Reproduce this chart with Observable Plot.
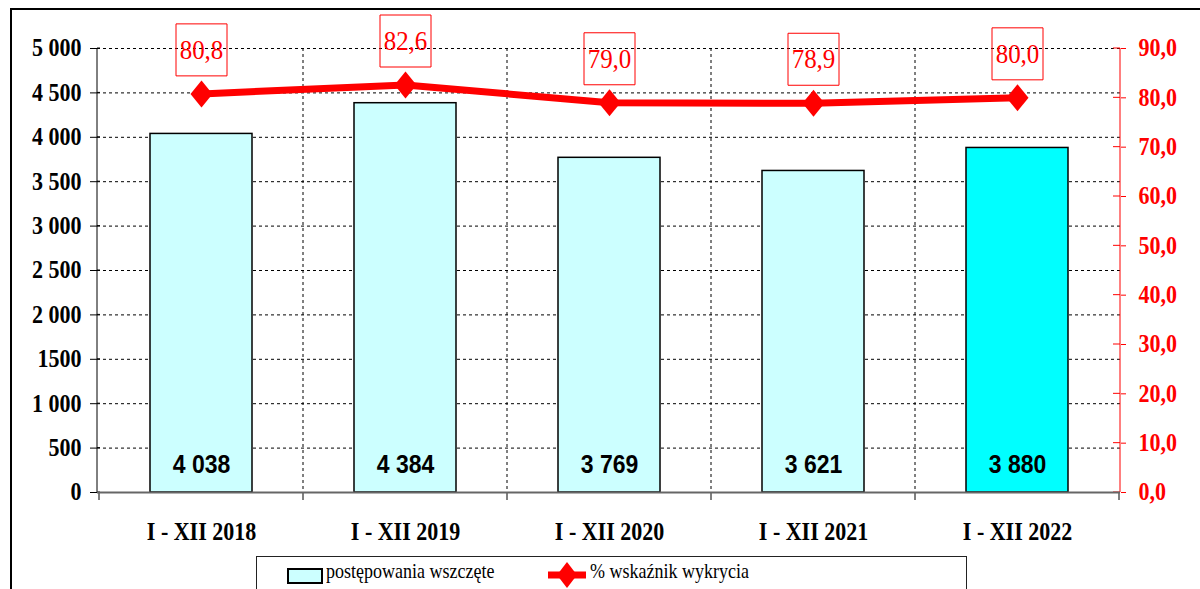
<!DOCTYPE html>
<html>
<head>
<meta charset="utf-8">
<script src="https://cdn.jsdelivr.net/npm/d3@7"></script>
<script src="https://cdn.jsdelivr.net/npm/@observablehq/plot@0.6"></script>
<style>
  html, body { margin: 0; padding: 0; background: #fff; }
  #wrap { position: relative; width: 1200px; height: 589px; overflow: hidden; background: #fff; }
  #chart { position: absolute; left: 0; top: 0; }
  #frame { position: absolute; left: 10px; top: 8px; width: 1300px; height: 700px; border: 2px solid #000; pointer-events: none; box-sizing: border-box; }
  #legend { position: absolute; left: 256px; top: 556px; width: 709px; height: 60px; border: 1px solid #222; background: #fff; font-family: "Liberation Serif", "Times New Roman", serif; font-size: 18px; color: #000; }
  #legend .sw { position: absolute; left: 30px; top: 11px; width: 32px; height: 12px; background: #CCFFFF; border: 2px solid #000; }
  #legend .t1, #legend .t2 { position: absolute; top: 6px; white-space: nowrap; display: inline-block; transform: scaleY(1.15); transform-origin: 50% 100%; }
  #legend .t1 { left: 69px; }
  #legend svg { position: absolute; left: 289px; top: 4px; }
  #legend .t2 { left: 333px; }
</style>
</head>
<body>
<div id="wrap">
  <div id="chart"></div>
  <div id="legend">
    <div class="sw"></div><span class="t1">postępowania wszczęte</span>
    <svg width="42" height="30"><line x1="2" y1="14" x2="40" y2="14" stroke="#FF0000" stroke-width="7"/><polygon points="21,1 31,14 21,27 11,14" fill="#FF0000"/></svg>
    <span class="t2">% wskaźnik wykrycia</span>
  </div>
  <div id="frame"></div>
</div>
<script>
// ---- data ----
const categories = ["I - XII 2018", "I - XII 2019", "I - XII 2020", "I - XII 2021", "I - XII 2022"];
const cases = [4038, 4384, 3769, 3621, 3880];
const caseLabels = ["4 038", "4 384", "3 769", "3 621", "3 880"];
const detection = [80.8, 82.6, 79.0, 78.9, 80.0];
const detectionLabels = ["80,8", "82,6", "79,0", "78,9", "80,0"];
const leftTickValues = [0, 500, 1000, 1500, 2000, 2500, 3000, 3500, 4000, 4500, 5000];
const leftTickLabels = ["0", "500", "1 000", "1500", "2 000", "2 500", "3 000", "3 500", "4 000", "4 500", "5 000"];
const rightTickValues = [0, 10, 20, 30, 40, 50, 60, 70, 80, 90];
const rightTickLabels = ["0,0", "10,0", "20,0", "30,0", "40,0", "50,0", "60,0", "70,0", "80,0", "90,0"];
const leftMax = 5000, rightMax = 90;
const highlighted = "I - XII 2022";

const toLeft = v => v * leftMax / rightMax;
const rows = categories.map((c, i) => ({cat: c, cases: cases[i], caseLabel: caseLabels[i], pct: toLeft(detection[i]), pctLabel: detectionLabels[i]}));
const leftFmt = new Map(leftTickValues.map((v, i) => [v, leftTickLabels[i]]));
const rightFmt = new Map(rightTickValues.map((v, i) => [toLeft(v), rightTickLabels[i]]));

const diamond = { draw(ctx, size) { const s = Math.sqrt(size / Math.PI) / 10; const w = 11 * s, h = 13.5 * s; ctx.moveTo(0, -h); ctx.lineTo(w, 0); ctx.lineTo(0, h); ctx.lineTo(-w, 0); ctx.closePath(); } };
const box = { draw(ctx, size) { const s = Math.sqrt(size / Math.PI) / 10; const w = 25.5 * s, h = 26 * s; ctx.moveTo(-w, -h); ctx.lineTo(w, -h); ctx.lineTo(w, h); ctx.lineTo(-w, h); ctx.closePath(); } };

function frameLines(index, scales, values, dims) {
  const x = scales.x, y = scales.y;
  const {width, height, marginLeft, marginRight, marginTop, marginBottom} = dims;
  const x0 = marginLeft, x1 = width - marginRight, yTop = marginTop, yBot = height - marginBottom;
  const step = x.step(), bw = x.bandwidth();
  const bounds = categories.map(c => x(c) + bw / 2 - step / 2);
  bounds.push(x(categories[categories.length - 1]) + bw / 2 + step / 2);
  const g = d3.create("svg:g");
  bounds.slice(1, -1).forEach(b => g.append("line").attr("x1", b).attr("x2", b).attr("y1", yTop).attr("y2", yBot)
    .attr("stroke", "#000").attr("stroke-dasharray", "3,3"));
  bounds.forEach(b => g.append("line").attr("x1", b).attr("x2", b).attr("y1", yBot).attr("y2", yBot + 8).attr("stroke", "#000"));
  g.append("line").attr("x1", x0).attr("x2", x0).attr("y1", yTop).attr("y2", yBot).attr("stroke", "#000");
  g.append("line").attr("x1", x1).attr("x2", x1).attr("y1", yTop).attr("y2", yBot).attr("stroke", "#FF0000");
  rightTickValues.forEach(v => g.append("line").attr("x1", x1 - 7).attr("x2", x1).attr("y1", y(toLeft(v))).attr("y2", y(toLeft(v))).attr("stroke", "#FF0000"));
  leftTickValues.forEach(v => g.append("line").attr("x1", x0).attr("x2", x0 + 3).attr("y1", y(v)).attr("y2", y(v)).attr("stroke", "#000"));
  return g.node();
}

const chart = Plot.plot({
  width: 1200,
  height: 556,
  marginLeft: 97,
  marginRight: 80,
  marginTop: 48,
  marginBottom: 64,
  style: {fontFamily: "Liberation Serif, 'Times New Roman', serif", background: "transparent", overflow: "visible"},
  x: {type: "band", domain: categories, paddingInner: 0.5, paddingOuter: 0.25},
  y: {domain: [0, leftMax]},
  marks: [
    Plot.ruleY(leftTickValues.filter(v => v > 0), {stroke: "#000", strokeDasharray: "3,3", strokeWidth: 1}),
    frameLines,
    Plot.barY(rows, {x: "cat", y: "cases", fill: d => d.cat === highlighted ? "#00FFFF" : "#CCFFFF", stroke: "#000", strokeWidth: 1.5}),
    Plot.ruleY([0], {stroke: "#666", strokeWidth: 2}),
    Plot.text(rows, {x: "cat", y: 0, text: "caseLabel", dy: -28, fontFamily: "Liberation Sans, Arial, sans-serif", fontWeight: "bold", fontSize: 23, fill: "#000"}),
    Plot.line(rows, {x: "cat", y: "pct", stroke: "#FF0000", strokeWidth: 7}),
    Plot.dot(rows, {x: "cat", y: "pct", symbol: diamond, r: 10, fill: "#FF0000", stroke: "none"}),
    Plot.dot(rows, {x: "cat", y: "pct", symbol: box, r: 10, dy: -44, fill: "none", stroke: "#FF0000", strokeWidth: 1}),
    Plot.text(rows, {x: "cat", y: "pct", text: "pctLabel", dy: -44, fill: "#FF0000", fontSize: 25, fontFamily: "Liberation Serif, 'Times New Roman', serif"}),
    Plot.axisY({anchor: "left", ticks: leftTickValues, tickFormat: d => leftFmt.get(d), tickSize: 7, tickPadding: 9, fontSize: 22, fontWeight: "bold", color: "#000", label: null}),
    Plot.axisY({anchor: "right", ticks: rightTickValues.map(toLeft), tickFormat: d => rightFmt.get(d), tickSize: 5, tickPadding: 13, fontSize: 22, fontWeight: "bold", color: "#FF0000", label: null}),
    Plot.axisX({tickSize: 0, tickPadding: 30, fontSize: 22, fontWeight: "bold", color: "#000", label: null})
  ]
});
// the reference's text is slightly stretched vertically; stretch each label about its own anchor
d3.select(chart).selectAll("text").each(function() {
  const el = d3.select(this);
  const x = +el.attr("x") || 0, y = +el.attr("y") || 0;
  const t = el.attr("transform") || "";
  el.attr("transform", `${t} translate(${x},${y}) scale(1,1.13) translate(${-x},${-y})`);
});
document.getElementById("chart").appendChild(chart);
</script>
</body>
</html>
